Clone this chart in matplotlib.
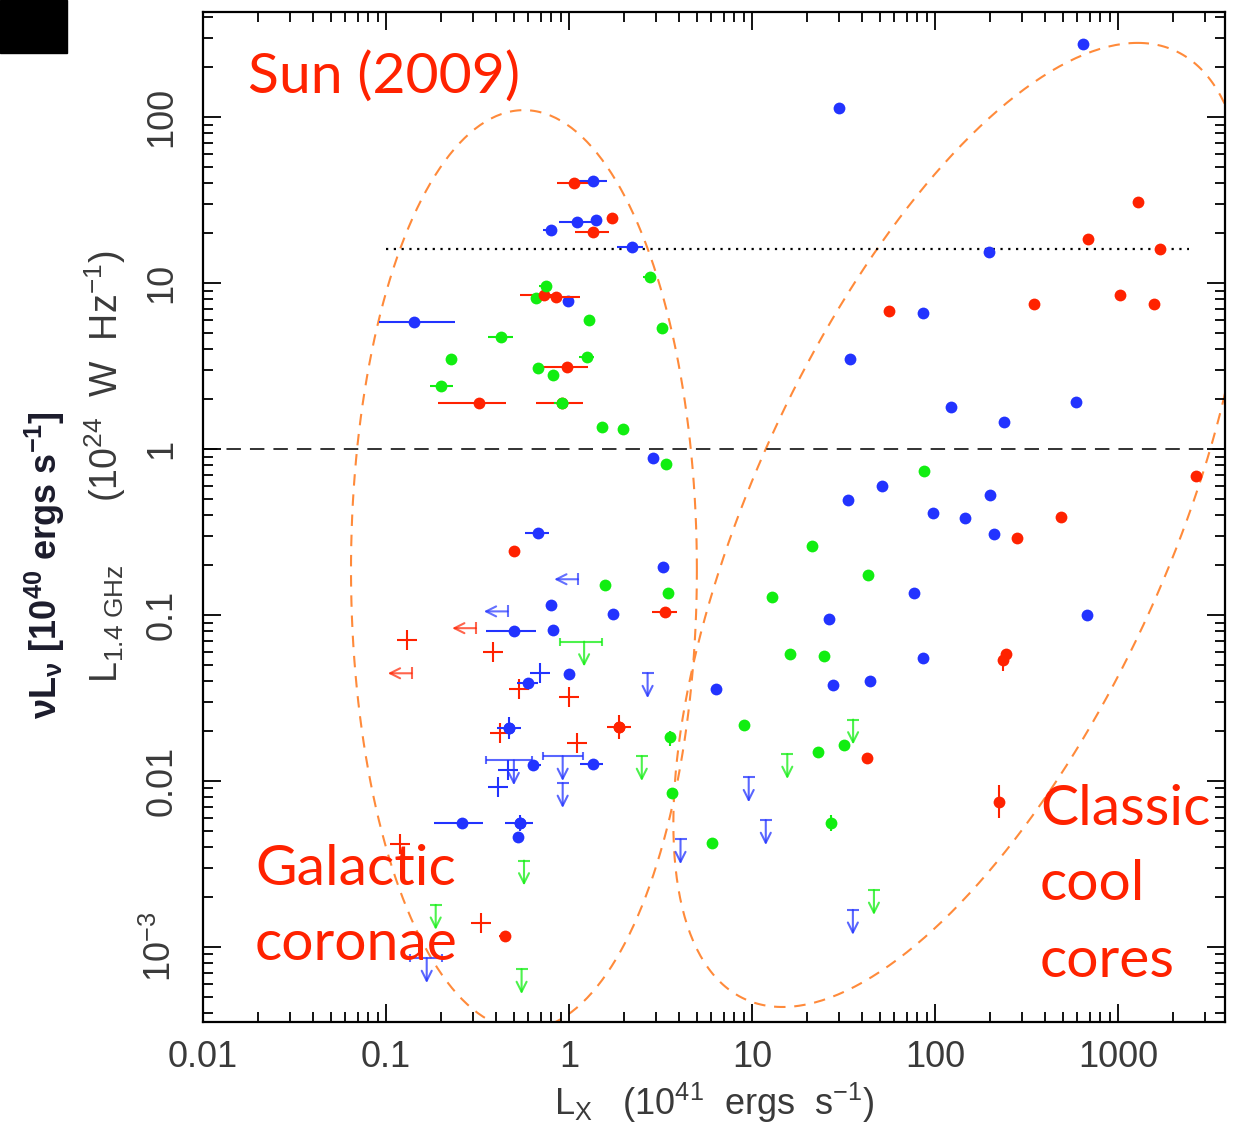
import numpy as np
import matplotlib
matplotlib.use('Agg')
from matplotlib import pyplot as plt
from matplotlib.patches import Rectangle

plt.rcParams['font.family'] = ['Liberation Sans Narrow', 'Liberation Sans', 'DejaVu Sans']
plt.rcParams['mathtext.fontset'] = 'custom'
plt.rcParams['mathtext.rm'] = 'Liberation Sans'
plt.rcParams['mathtext.it'] = 'Liberation Sans:italic'
plt.rcParams['mathtext.bf'] = 'Liberation Sans:bold'

RED = '#ff2200'
BLUE = '#2233ff'
GREEN = '#11ee11'
ORANGE = '#ff8a3a'

# --- red: plain dots
red_x = [1.71, 1288, 682, 1694, 56, 347, 1031, 1567, 280, 490, 2680, 245, 42.5]
red_y = [24.7, 30.9, 18.4, 16.0, 6.76, 7.45, 8.4, 7.45, 0.29, 0.391, 0.686, 0.058, 0.0138]
# red dots with horizontal error bars
red_ex = [1.06, 1.36, 0.733, 0.849, 0.98, 0.324, 0.912, 0.502, 3.33, 0.447, 1.88]
red_ey = [39.9, 20.4, 8.47, 8.27, 3.1, 1.9, 1.88, 0.241, 0.104, 0.00116, 0.021]
red_elo = [0.857, 1.08, 0.54, 0.70, 0.71, 0.192, 0.658, 0.47, 2.83, 0.415, 1.61]
red_ehi = [1.35, 1.66, 0.85, 1.15, 1.27, 0.453, 1.19, 0.535, 3.88, 0.48, 2.19]
# red dots with vertical error bars
red_vx = [1.88, 234, 223]
red_vy = [0.021, 0.0537, 0.0075]
red_vlo = [0.0178, 0.0457, 0.0060]
red_vhi = [0.0249, 0.0600, 0.0094]
red_plus_x = [0.131, 0.386, 0.535, 1.0, 0.42, 1.10, 0.12, 0.331]
red_plus_y = [0.0707, 0.0601, 0.0357, 0.0322, 0.0194, 0.017, 0.00417, 0.0014]
red_left_x = [0.31, 0.138]
red_left_y = [0.0832, 0.0445]

# --- blue
blue_x = [1.40, 0.984, 2.89, 30, 641, 198, 86, 34.3, 123, 237, 593, 51.2, 33.3, 199,
          98, 146, 210, 76.6, 26.2, 680, 85.9, 6.36, 27.7, 44.2, 0.797, 1.75, 0.82,
          1.0, 0.528]
blue_y = [24.0, 7.8, 0.879, 113, 274, 15.3, 6.58, 3.47, 1.78, 1.46, 1.93, 0.594, 0.494,
          0.525, 0.413, 0.382, 0.308, 0.136, 0.0946, 0.0995, 0.055, 0.036, 0.038, 0.04,
          0.115, 0.101, 0.0813, 0.0441, 0.00461]
blue_ex = [1.36, 1.10, 0.794, 2.2, 0.142, 0.68, 3.25, 0.502, 0.6, 0.472, 0.633, 1.35, 0.259, 0.54]
blue_ey = [41.1, 23.2, 20.9, 16.4, 5.85, 0.311, 0.194, 0.0801, 0.0391, 0.0208, 0.0125,
           0.0126, 0.00561, 0.00556]
blue_elo = [1.08, 0.88, 0.72, 1.84, 0.0916, 0.575, 3.05, 0.352, 0.518, 0.405, 0.60, 1.15, 0.183, 0.447]
blue_ehi = [1.62, 1.35, 0.86, 2.55, 0.238, 0.78, 3.45, 0.66, 0.68, 0.55, 0.70, 1.54, 0.34, 0.638]
blue_vx = [0.472, 0.54]
blue_vy = [0.0208, 0.00556]
blue_vlo = [0.0178, 0.0050]
blue_vhi = [0.0243, 0.0062]
blue_plus_x = [0.695, 0.466, 0.411]
blue_plus_y = [0.0445, 0.0116, 0.00916]
blue_left_x = [1.12, 0.462]
blue_left_y = [0.164, 0.105]
# upper limits in radio (arrows down); lo/hi = horizontal bar ends
blue_ul_x = [2.69, 0.924, 9.6, 11.9, 4.07, 35.6, 0.167, 0.5, 0.924]
blue_ul_y = [0.0445, 0.0097, 0.0105, 0.0058, 0.00445, 0.00167, 8.55e-4, 0.0133, 0.0141]
blue_ul_lo = [2.69, 0.924, 9.6, 11.9, 4.07, 35.6, 0.135, 0.351, 0.718]
blue_ul_hi = [2.69, 0.924, 9.6, 11.9, 4.07, 35.6, 0.202, 0.63, 1.19]

# --- green
green_x = [0.66, 1.29, 3.21, 0.226, 0.675, 0.815, 1.51, 1.98, 3.39, 1.58, 3.49, 3.64,
           86.7, 21.4, 43.3, 12.9, 16.1, 24.9, 9.03, 22.9, 31.8, 6.05]
green_y = [8.15, 5.98, 5.33, 3.47, 3.09, 2.78, 1.36, 1.31, 0.812, 0.152, 0.135, 0.00843,
           0.741, 0.259, 0.173, 0.128, 0.0583, 0.0562, 0.0216, 0.015, 0.0164, 0.00423]
green_ex = [2.77, 0.746, 0.424, 1.25, 0.201, 0.912]
green_ey = [10.8, 9.6, 4.71, 3.57, 2.4, 1.88]
green_elo = [2.55, 0.69, 0.362, 1.14, 0.175, 0.83]
green_ehi = [3.0, 0.81, 0.496, 1.37, 0.233, 1.0]
green_vx = [3.56, 26.9]
green_vy = [0.0185, 0.00557]
green_vlo = [0.0162, 0.0050]
green_vhi = [0.0200, 0.0062]
green_ul_x = [1.21, 2.5, 0.568, 0.187, 0.551, 15.6, 35.7, 46.4]
green_ul_y = [0.069, 0.0141, 0.00331, 0.00179, 7.34e-4, 0.0145, 0.0234, 0.0022]
green_ul_lo = [0.893, 2.5, 0.568, 0.187, 0.551, 15.6, 35.7, 46.4]
green_ul_hi = [1.52, 2.5, 0.568, 0.187, 0.551, 15.6, 35.7, 46.4]

# reference lines
y_dotted = 16.0
x_dotted = [0.1, 2450]
y_dashed = 1.0

# ellipses in log10 space: x = cx + A cos t + B sin t, y = cy + C cos t + D sin t
ellipses = [(-0.246, -0.729, 0.945, 0.0, 0.0, 2.77),
            (2.137, -0.458, 0.97, 1.23, 2.904, 0.0)]

x_ticks = [0.01, 0.1, 1, 10, 100, 1000]
x_ticklabels = ['0.01', '0.1', '1', '10', '100', '1000']
y_ticks = [1e-3, 0.01, 0.1, 1, 10, 100]
y_ticklabels = ['$10^{-3}$', '0.01', '0.1', '1', '10', '100']

fig = plt.figure(figsize=(12.36, 11.27), dpi=100)
ax = fig.add_axes([0.1642, 0.0932, 0.8269, 0.8962])
ax.set_xscale('log')
ax.set_yscale('log')
ax.set_xlim(0.01, 3845)
ax.set_ylim(3.53e-4, 429)

# ellipses and reference lines
t = np.linspace(0, 2 * np.pi, 400)
for cx, cy, A, B, C, D in ellipses:
    lx = cx + A * np.cos(t) + B * np.sin(t)
    ly = cy + C * np.cos(t) + D * np.sin(t)
    ax.plot(10 ** lx, 10 ** ly, color=ORANGE, lw=1.5, ls=(0, (5.5, 4.2)), zorder=1)
ax.axhline(y_dashed, color='#222222', lw=1.3, ls=(0, (8, 5)), zorder=1)
ax.hlines(y_dotted, x_dotted[0], x_dotted[1], colors='black', lw=1.6,
          linestyles=(0, (1, 2.5)), zorder=1)

MS = 8.5
UL_DEX = 0.15
LEFT_DEX = 0.13


def draw_group(c, px, py, ex, ey, elo, ehi, vx, vy, vlo, vhi):
    ex, ey, elo, ehi = map(np.asarray, (ex, ey, elo, ehi))
    ax.errorbar(ex, ey, xerr=[ex - elo, ehi - ex], fmt='o', color=c, ms=MS, mew=0,
                elinewidth=1.5, capsize=3, capthick=1.5, zorder=3)
    vx, vy, vlo, vhi = map(np.asarray, (vx, vy, vlo, vhi))
    ax.errorbar(vx, vy, yerr=[vy - vlo, vhi - vy], fmt='o', color=c, ms=MS, mew=0,
                elinewidth=1.5, capsize=0, zorder=3)
    ax.plot(px, py, 'o', color=c, ms=MS, mew=0, zorder=3)


def draw_plus(c, px, py):
    ax.plot(px, py, '+', color=c, ms=14, mew=1.5, zorder=3)


def draw_left(c, lx, ly, alpha=0.7):
    for x, y in zip(lx, ly):
        ax.annotate('', xy=(x / 10 ** LEFT_DEX, y), xytext=(x, y),
                    arrowprops=dict(arrowstyle='->', color=c, lw=1.5, alpha=alpha,
                                    shrinkA=0, shrinkB=0, mutation_scale=18))
        ax.plot(x, y, '|', color=c, ms=9, mew=1.5, alpha=alpha, zorder=3)


def draw_ul(c, ux, uy, ulo, uhi, alpha=0.75):
    for x, y, lo, hi in zip(ux, uy, ulo, uhi):
        ax.annotate('', xy=(x, y / 10 ** UL_DEX), xytext=(x, y),
                    arrowprops=dict(arrowstyle='->', color=c, lw=1.5, alpha=alpha,
                                    shrinkA=0, shrinkB=0, mutation_scale=18))
        if hi > lo:
            ax.errorbar(x, y, xerr=[[x - lo], [hi - x]], fmt='none', ecolor=c,
                        elinewidth=1.5, capsize=3, capthick=1.5, alpha=alpha)
        else:
            ax.plot(x, y, '_', color=c, ms=9, mew=1.5, alpha=alpha, zorder=3)


draw_ul(BLUE, blue_ul_x, blue_ul_y, blue_ul_lo, blue_ul_hi)
draw_ul(GREEN, green_ul_x, green_ul_y, green_ul_lo, green_ul_hi)
draw_left(RED, red_left_x, red_left_y)
draw_left(BLUE, blue_left_x, blue_left_y)
draw_plus(RED, red_plus_x, red_plus_y)
draw_plus(BLUE, blue_plus_x, blue_plus_y)
draw_group(BLUE, blue_x, blue_y, blue_ex, blue_ey, blue_elo, blue_ehi,
           blue_vx, blue_vy, blue_vlo, blue_vhi)
draw_group(RED, red_x, red_y, red_ex, red_ey, red_elo, red_ehi,
           red_vx, red_vy, red_vlo, red_vhi)
draw_group(GREEN, green_x, green_y, green_ex, green_ey, green_elo, green_ehi,
           green_vx, green_vy, green_vlo, green_vhi)

# axes formatting
ax.set_xticks(x_ticks)
ax.set_xticklabels(x_ticklabels)
ax.set_yticks(y_ticks)
ax.set_yticklabels(y_ticklabels, rotation=90, va='center')
ax.xaxis.set_minor_locator(matplotlib.ticker.LogLocator(base=10, subs=np.arange(2, 10)))
ax.yaxis.set_minor_locator(matplotlib.ticker.LogLocator(base=10, subs=np.arange(2, 10)))
ax.xaxis.set_minor_formatter(matplotlib.ticker.NullFormatter())
ax.yaxis.set_minor_formatter(matplotlib.ticker.NullFormatter())
ax.tick_params(which='both', direction='in', top=True, right=True, width=1.3,
               colors='black', labelcolor='#3a3a3a', labelsize=26)
ax.tick_params(which='major', length=13)
ax.tick_params(which='minor', length=7)
ax.tick_params(axis='x', pad=13)
ax.tick_params(axis='y', pad=17)
for s in ax.spines.values():
    s.set_linewidth(1.6)

ax.set_xlabel('L$_\\mathrm{X}$   (10$^{41}$  ergs  s$^{-1}$)', fontsize=26,
              color='#3a3a3a', labelpad=4)
fig.text(105 / 1236, 1 - 467 / 1127,
         'L$_{\\mathrm{1.4\\ GHz}}$      (10$^{24}$  W  Hz$^{-1}$)',
         rotation=90, ha='center', va='center', fontsize=27, color='#3a3a3a')
fig.text(45 / 1236, 1 - 565 / 1127,
         '\u03bdL$_{\\mathbf{\u03bd}}$ [10$^{\\mathbf{40}}$ ergs s$^{\\mathbf{-1}}$]',
         rotation=90, ha='center', va='center', fontsize=26, fontweight='bold',
         family=['Liberation Sans', 'DejaVu Sans'], color='#1c1c2c')

# annotations
ann = dict(color=RED, fontsize=41, family=['Lato', 'DejaVu Sans'], va='baseline',
           transform=ax.transAxes)
ax.text(0.044, 0.92, 'Sun (2009)', **ann)
ax.text(0.051, 0.1356, 'Galactic', **ann)
ax.text(0.051, 0.0614, 'coronae', **ann)
ax.text(0.819, 0.195, 'Classic', **ann)
ax.text(0.819, 0.121, 'cool', **ann)
ax.text(0.819, 0.0446, 'cores', **ann)

fig.patches.append(Rectangle((0, 1 - 53 / 1127), 67 / 1236, 53 / 1127,
                             transform=fig.transFigure, color='black'))

plt.savefig('out.png', dpi=100)
